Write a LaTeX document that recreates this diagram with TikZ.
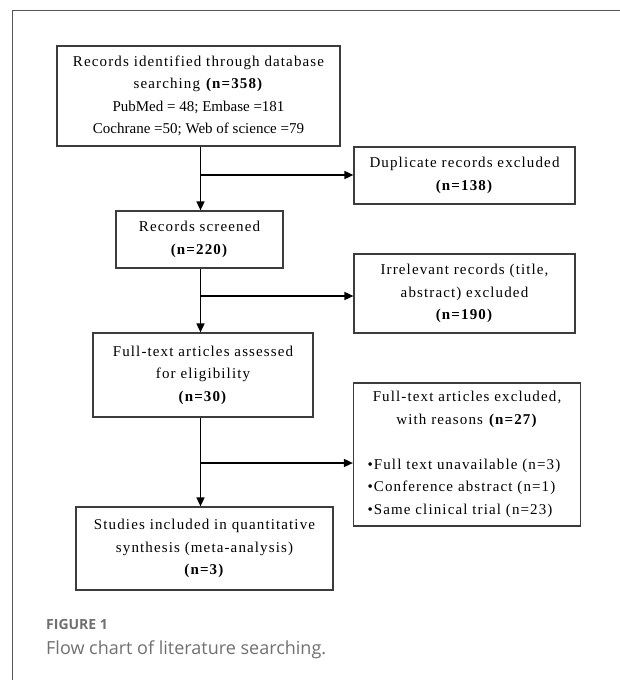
\documentclass[tikz,border=0pt]{standalone}
\usepackage{fontspec}
\setmainfont{Liberation Serif}
\newfontfamily\spacedfont[LetterSpace=7.5]{Liberation Serif}
\newfontfamily\capfont{Open Sans}
\usetikzlibrary{positioning,arrows.meta}
\definecolor{framegray}{RGB}{85,85,85}
\definecolor{capgray}{RGB}{112,112,112}
\definecolor{boxgray}{RGB}{60,60,60}

\begin{document}
\begin{tikzpicture}[x=1pt,y=-1pt,
  box/.style={draw=boxgray,line width=1.2pt,align=center,inner sep=0pt,
    font=\fontsize{15}{22.5}\selectfont\spacedfont},
  flow/.style={line width=1.6pt,-{Triangle[length=9pt,width=8pt]}}]
\useasboundingbox (0,0) rectangle (620,680);

% Outer frame
\draw[framegray,line width=1pt] (12,680) -- (12,10) -- (620,10);

% Main boxes
\node[box,minimum width=283,minimum height=100] (ident) at (198.5,96)
  {Records identified through database\\
   searching \textbf{(n=358)}\\
   {\rmfamily PubMed = 48; Embase =181}\\
   {\rmfamily Cochrane =50; Web of science =79}};
\node[box,minimum width=167,minimum height=57] (screened) at (199.5,239.5)
  {Records screened\\ \textbf{(n=220)}};
\node[box,minimum width=220,minimum height=84] (fulltext) at (203,375)
  {Full-text articles assessed\\ for eligibility\\ \textbf{(n=30)}};
\node[box,minimum width=257,minimum height=83] (studies) at (204.5,548.5)
  {Studies included in quantitative\\ synthesis (meta-analysis)\\ \textbf{(n=3)}};

% Excluded boxes
\node[box,minimum width=221,minimum height=57] (dup) at (464.5,175.5)
  {Duplicate records excluded\\ \textbf{(n=138)}};
\node[box,minimum width=221,minimum height=79] (irrel) at (464.5,293.5)
  {Irrelevant records (title,\\ abstract) excluded\\ \textbf{(n=190)}};
\node[box,minimum width=227,minimum height=143] (excl) at (467,454.5)
  {Full-text articles excluded,\\ with reasons \textbf{(n=27)}\\[22.5pt]
   \makebox[199pt][l]{\textbullet Full text unavailable (n=3)}\\
   \makebox[199pt][l]{\textbullet Conference abstract (n=1)}\\
   \makebox[199pt][l]{\textbullet Same clinical trial (n=23)}};

% Trunk
\coordinate (trunk) at (200.5,0);
\draw[flow] (ident.south -| trunk) -- (screened.north -| trunk);
\draw[flow] (screened.south -| trunk) -- (fulltext.north -| trunk);
\draw[flow] (fulltext.south -| trunk) -- (studies.north -| trunk);

% Branches
\coordinate (j1) at (200.5,175);
\coordinate (j2) at (200.5,296);
\coordinate (j3) at (200.5,463);
\draw[flow] (j1) -- (j1 -| dup.west);
\draw[flow] (j2) -- (j2 -| irrel.west);
\draw[flow] (j3) -- (j3 -| excl.west);

% Caption
\node[anchor=base west,inner sep=0pt,capgray,font=\capfont\bfseries\fontsize{14}{16}\selectfont]
  (fig) at (46,629) {FIGURE 1};
\node[anchor=base west,inner sep=0pt,capgray,font=\capfont\fontsize{18}{21}\selectfont]
  (cap) at (46,654) {Flow chart of literature searching.};
\end{tikzpicture}
\end{document}
